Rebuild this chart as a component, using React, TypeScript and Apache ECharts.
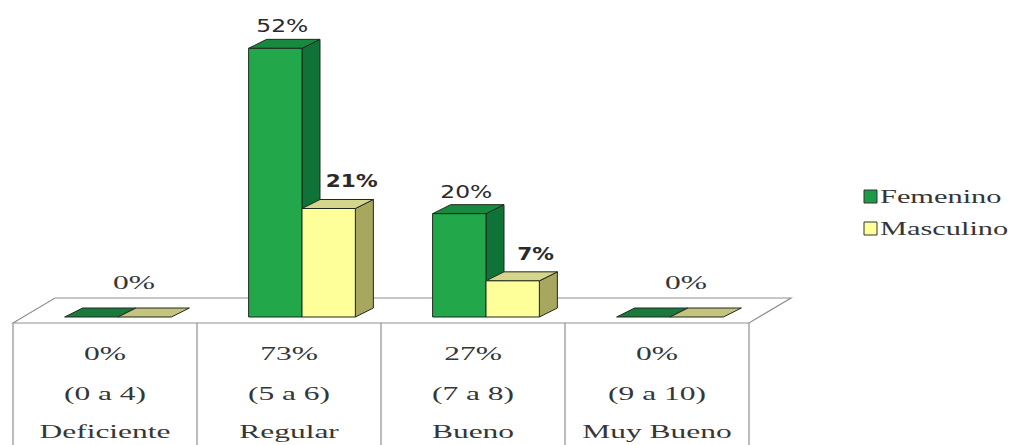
import React, { useEffect, useRef } from "react";
import * as echarts from "echarts";

// ---- data ----
const categories = ["Deficiente", "Regular", "Bueno", "Muy Bueno"];
const ranges = ["(0 a 4)", "(5 a 6)", "(7 a 8)", "(9 a 10)"];
const totals = [0, 73, 27, 0];
const seriesNames = ["Femenino", "Masculino"];
const femenino = [0, 52, 20, 0];
const masculino = [0, 21, 7, 0];
const seriesValues = [femenino, masculino];

// ---- styles ----
const palette = [
  { front: "#22A84B", side: "#0F7236", top: "#178A40", flat: "#1A7A3B", legend: "#1C9C48", labelWeight: "normal", labelScale: 1.3, labelDx: 7, labelDy: -13 },
  { front: "#FFFF99", side: "#A8A760", top: "#D6D58C", flat: "#C5C47F", legend: "#FFFF99", labelWeight: "bold", labelScale: 1.2, labelDx: 23, labelDy: -18 },
];
const EDGE = "#1f2a1f";
const FRAME = "#8f8f8f";
const TEXT = "#2a2a2a";
const SERIF_TEXT = "#363636";
const SERIF = "'Liberation Serif', 'Times New Roman', serif";
const SANS = "'DejaVu Sans', Verdana, sans-serif";
const SHIFT_X = 13; // bars sit a bit behind the front of the floor
const SHIFT_Y = -6;
const DEPTH_X = 18; // 3D depth of bars
const DEPTH_Y = -9;
const FLOOR_X = 42; // 3D depth of floor
const FLOOR_Y = -25;
const TEXT_SCALE = 1.75;

function barRender(sIdx: number) {
  return (params: any, api: any) => {
    const cat = api.value(0);
    const val = api.value(1);
    const base = api.coord([cat, 0]);
    const topPt = api.coord([cat, val]);
    const band = api.size([1, 0])[0];
    const bw = band * 0.29;
    const cx = base[0] + SHIFT_X;
    const x0 = cx - bw + sIdx * bw;
    const x1 = x0 + bw;
    const yb = base[1] + SHIFT_Y;
    const yt = topPt[1] + SHIFT_Y;
    const c = palette[sIdx];
    const children: any[] = [];
    const topFace = {
      type: "polygon",
      shape: { points: [[x0, yt], [x0 + DEPTH_X, yt + DEPTH_Y], [x1 + DEPTH_X, yt + DEPTH_Y], [x1, yt]] },
      style: { fill: val > 0 ? c.top : c.flat, stroke: EDGE, lineWidth: 1 },
    };
    if (val > 0) {
      children.push({
        type: "polygon",
        shape: { points: [[x1, yt], [x1 + DEPTH_X, yt + DEPTH_Y], [x1 + DEPTH_X, yb + DEPTH_Y], [x1, yb]] },
        style: { fill: c.side, stroke: EDGE, lineWidth: 1 },
      });
      children.push(topFace);
      children.push({
        type: "rect",
        shape: { x: x0, y: yt, width: bw, height: yb - yt },
        style: { fill: c.front, stroke: EDGE, lineWidth: 1 },
      });
      children.push({
        type: "text",
        x: x0 + bw / 2 + c.labelDx,
        y: yt + DEPTH_Y + c.labelDy,
        scaleX: c.labelScale,
        style: {
          text: val + "%",
          fontSize: 18,
          fontFamily: SANS,
          fontWeight: c.labelWeight,
          fill: TEXT,
          align: "center",
          verticalAlign: "middle",
        },
      });
    } else {
      children.push(topFace);
      const allZero = seriesValues.every((arr) => arr[cat] === 0);
      if (sIdx === 0 || !allZero) {
        const lx = allZero ? cx + 16 : x0 + bw / 2 + c.labelDx;
        children.push({
          type: "text",
          x: lx,
          y: yt + DEPTH_Y - 25,
          scaleX: TEXT_SCALE,
          style: {
            text: val + "%",
            fontSize: 18,
            fontFamily: SERIF,
            fill: SERIF_TEXT,
            align: "center",
            verticalAlign: "middle",
          },
        });
      }
    }
    return { type: "group", children };
  };
}

function frameRender(params: any, api: any) {
  const cat = api.value(0);
  const cs = params.coordSys;
  const L = cs.x;
  const R = cs.x + cs.width;
  const F = cs.y + cs.height;
  const band = api.size([1, 0])[0];
  const cx = api.coord([cat, 0])[0];
  const left = cx - band / 2;
  const right = cx + band / 2;
  const children: any[] = [];
  if (cat === 0) {
    children.push({
      type: "polygon",
      shape: { points: [[L, F], [L + FLOOR_X, F + FLOOR_Y], [R + FLOOR_X, F + FLOOR_Y], [R, F]] },
      style: { fill: "#ffffff", stroke: FRAME, lineWidth: 1.2 },
    });
  }
  children.push({
    type: "line",
    shape: { x1: left, y1: F, x2: left, y2: F + 140 },
    style: { stroke: FRAME, lineWidth: 1.2 },
  });
  if (cat === categories.length - 1) {
    children.push({
      type: "line",
      shape: { x1: right, y1: F, x2: right, y2: F + 140 },
      style: { stroke: FRAME, lineWidth: 1.2 },
    });
  }
  const rows = [totals[cat] + "%", ranges[cat], categories[cat]];
  const rowY = [31, 71, 109];
  rows.forEach((t, i) => {
    children.push({
      type: "text",
      x: cx,
      y: F + rowY[i],
      scaleX: TEXT_SCALE,
      style: {
        text: t,
        fontSize: 18,
        fontFamily: SERIF,
        fill: SERIF_TEXT,
        align: "center",
        verticalAlign: "middle",
      },
    });
  });
  return { type: "group", children };
}

export default function App() {
  const ref = useRef<HTMLDivElement>(null);
  useEffect(() => {
    if (!ref.current) return;
    const chart = echarts.init(ref.current, undefined, { renderer: "svg" });
    const option: any = {
      animation: false,
      backgroundColor: "#ffffff",
      grid: { left: 13, right: 270, top: 13, bottom: 122 },
      xAxis: { type: "category", data: categories, show: false },
      yAxis: { type: "value", min: 0, max: 60, show: false },
      graphic: seriesNames.flatMap((name, i) => [
        {
          type: "rect",
          shape: { x: 864, y: 190 + i * 32, width: 13, height: 13 },
          style: { fill: palette[i].legend, stroke: "#333", lineWidth: 1 },
        },
        {
          type: "text",
          x: 880,
          y: 196 + i * 32,
          scaleX: 1.6,
          style: { text: name, fontSize: 19, fontFamily: SERIF, fill: SERIF_TEXT, verticalAlign: "middle" },
        },
      ]),
      series: [
        {
          type: "custom",
          name: "frame",
          renderItem: frameRender,
          data: categories.map((_, i) => [i]),
          clip: false,
          silent: true,
        },
        ...seriesNames.map((name, s) => ({
          type: "custom",
          name,
          renderItem: barRender(s),
          data: seriesValues[s].map((v, i) => [i, v]),
          clip: false,
        })),
      ],
    };
    chart.setOption(option);
    return () => chart.dispose();
  }, []);
  return (
    <div
      ref={ref}
      style={{ position: "fixed", left: 0, top: 0, width: 1019, height: 445, background: "#fff" }}
    />
  );
}
